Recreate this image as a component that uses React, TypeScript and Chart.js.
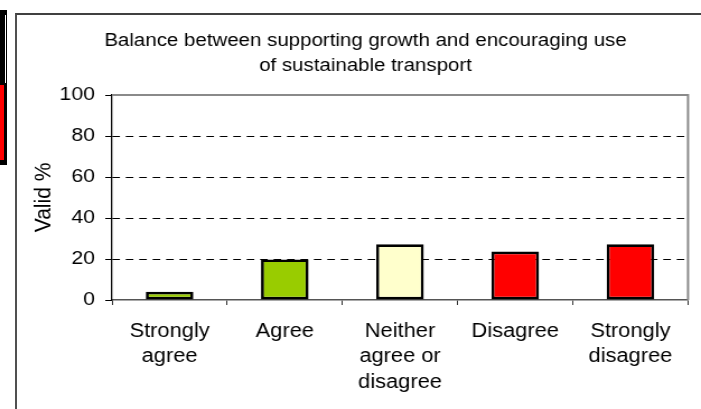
import React, { useEffect, useRef } from "react";
import { Chart, registerables } from "chart.js";

Chart.register(...registerables);

// ---- data ----
const categories: string[][] = [
  ["Strongly", "agree"],
  ["Agree"],
  ["Neither", "agree or", "disagree"],
  ["Disagree"],
  ["Strongly", "disagree"],
];
const validPercent: number[] = [4.0, 19.8, 27.2, 23.6, 27.2];
const barColors: string[] = ["#99CC00", "#99CC00", "#FFFFCC", "#FF0000", "#FF0000"];
const titleLines: string[] = [
  "Balance between supporting growth and encouraging use",
  "of sustainable transport",
];
const yAxisTitle = "Valid %";
const yMin = 0;
const yMax = 100;
const yStep = 20;

// ---- layout (internal canvas units; canvas is displayed stretched horizontally) ----
const PAGE_W = 701;
const PAGE_H = 409;
const INTERNAL_W = 626;
const FONT = "'Liberation Sans', Arial, Helvetica, sans-serif";

const plotBorderPlugin = {
  id: "plotBorder",
  afterDraw(chart: any) {
    const { ctx, chartArea } = chart;
    const { left, right, top, bottom } = chartArea;
    ctx.save();
    ctx.strokeStyle = "#8a8a8a";
    ctx.lineWidth = 2;
    ctx.beginPath();
    ctx.moveTo(left, top);
    ctx.lineTo(right, top);
    ctx.lineTo(right, bottom);
    ctx.stroke();
    ctx.restore();
  },
};

export default function App() {
  const canvasRef = useRef<HTMLCanvasElement | null>(null);

  useEffect(() => {
    if (!canvasRef.current) return;
    const chart = new Chart(canvasRef.current, {
      type: "bar",
      data: {
        labels: categories,
        datasets: [
          {
            data: validPercent,
            backgroundColor: barColors,
            borderColor: "#000000",
            borderWidth: 2.7,
            borderSkipped: false,
            barPercentage: 0.413,
            categoryPercentage: 1,
          },
        ],
      },
      options: {
        responsive: false,
        animation: false,
        devicePixelRatio: 1,
        layout: { padding: { left: 38.4, right: 11.6, top: 0, bottom: 0 } },
        plugins: {
          legend: { display: false },
          tooltip: { enabled: false },
          title: {
            display: true,
            text: titleLines,
            color: "#000000",
            font: { family: FONT, size: 18.3, weight: "normal", lineHeight: "25px" },
            padding: { top: 28, bottom: 17 },
          },
        },
        scales: {
          x: {
            type: "category",
            offset: true,
            grid: {
              display: true,
              drawOnChartArea: false,
              offset: true,
              drawTicks: true,
              tickLength: 5,
              tickColor: "#333333",
              tickWidth: 1,
            },
            border: { display: true, color: "#555555", width: 1.5 },
            ticks: {
              color: "#000000",
              font: { family: FONT, size: 19.5, lineHeight: "25.5px" },
              padding: 13.4,
              maxRotation: 0,
              minRotation: 0,
              autoSkip: false,
            },
            afterFit(scale: any) {
              scale.height = 109;
            },
          },
          y: {
            min: yMin,
            max: yMax,
            ticks: {
              stepSize: yStep,
              color: "#000000",
              font: { family: FONT, size: 19 },
              padding: 9.2,
            },
            grid: {
              color: (ctx: any) =>
                ctx.tick && (ctx.tick.value === yMin || ctx.tick.value === yMax)
                  ? "rgba(0,0,0,0)"
                  : "#000000",
              lineWidth: 1,
              drawTicks: true,
              tickLength: 6,
              tickColor: "#000000",
              tickWidth: 1,
            },
            border: { display: true, color: "#000000", width: 1.3, dash: [6.8, 5.2] },
            title: {
              display: true,
              text: yAxisTitle,
              color: "#000000",
              font: { family: FONT, size: 21, lineHeight: 1.2 },
              padding: { top: -12.2, bottom: 0 },
            },
            afterFit(scale: any) {
              scale.width = 61.6;
            },
          },
        },
      },
      plugins: [plotBorderPlugin],
    });
    return () => chart.destroy();
  }, []);

  return (
    <div style={{ position: "absolute", left: 0, top: 0, width: PAGE_W, height: PAGE_H, background: "#ffffff", overflow: "hidden" }}>
      {/* fragment of neighbouring chart on the far left */}
      <div style={{ position: "absolute", left: 0, top: 10, width: 7, height: 155, background: "#000000" }} />
      <div style={{ position: "absolute", left: 5, top: 15, width: 1, height: 68, background: "#ffffff" }} />
      <div style={{ position: "absolute", left: 0, top: 85, width: 4, height: 75, background: "#ff0000" }} />
      {/* chart frame */}
      <div
        style={{
          position: "absolute",
          left: 15,
          top: 13,
          width: PAGE_W - 15,
          height: PAGE_H - 13,
          borderTop: "2px solid #404040",
          borderLeft: "2px solid #505050",
          boxSizing: "border-box",
        }}
      />
      <canvas
        ref={canvasRef}
        width={INTERNAL_W}
        height={PAGE_H}
        style={{ position: "absolute", left: 0, top: 0, width: PAGE_W + "px", height: PAGE_H + "px" }}
      />
    </div>
  );
}
